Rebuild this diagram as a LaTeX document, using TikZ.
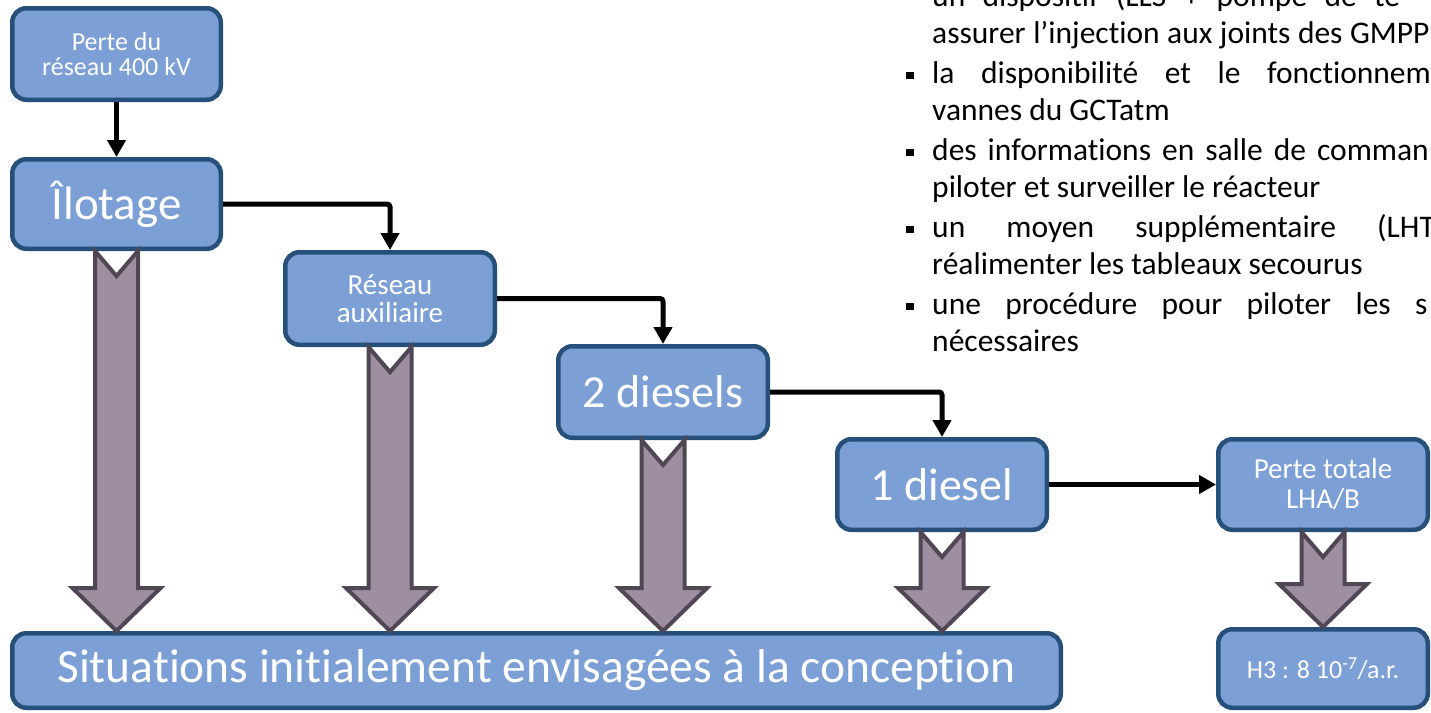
\documentclass[tikz,border=0pt]{standalone}
\usepackage{fontspec}
\setmainfont{Carlito}[RawFeature={-liga;-clig;-calt}]
\usetikzlibrary{arrows.meta,calc}

\definecolor{boxfill}{RGB}{124,159,213}
\definecolor{boxline}{RGB}{38,80,122}
\definecolor{fatfill}{RGB}{157,143,160}
\definecolor{fatline}{RGB}{80,70,84}

% thick hollow-notched block arrow from one stage down to another
\newcommand\fatarrow[2]{%
  \draw[fat]
    ($(#1.south)+(-21.5,0)$) -- ($(#1.south)+(0,25)$) -- ($(#1.south)+(21.5,0)$)
    -- ($(#1.south |- #2.north)+(21.5,-43)$) -- ($(#1.south |- #2.north)+(44,-43)$)
    -- (#1.south |- #2.north)
    -- ($(#1.south |- #2.north)+(-44,-43)$) -- ($(#1.south |- #2.north)+(-21.5,-43)$)
    -- cycle;}

% justified text line: words spread over a given width, then the last word
\newcommand\jline[5]{\node[body] (#1) at (932,#2) {\makebox[#3pt][l]{#4}#5};}

\begin{document}
\begin{tikzpicture}[x=1pt,y=-1pt,
  stage/.style={draw=boxline, fill=boxfill, line width=4.5pt, rounded corners=14pt,
    text=white, align=center, inner sep=0pt},
  conn/.style={line width=5pt, rounded corners=3pt, -{Triangle[length=17pt,width=18pt]}},
  fat/.style={draw=fatline, fill=fatfill, line width=4pt, line join=miter},
  body/.style={anchor=base west, inner sep=0pt, font=\fontsize{31.5}{36.5}\selectfont},
  bsq/.style={fill=black, minimum size=7.5pt, inner sep=0pt}]

\useasboundingbox (0,0) rectangle (1431,712);
\clip (0,0) rectangle (1431,712);

% stages
\node[stage, minimum width=208.5pt, minimum height=91.5pt,
      font=\fontsize{26}{25.5}\selectfont] (loss) at (116.5,54) {Perte du\\réseau 400 kV};
\node[stage, minimum width=208.5pt, minimum height=89.5pt,
      font=\fontsize{47}{56}\selectfont] (ilot) at (116.5,204) {Îlotage};
\node[stage, minimum width=209.5pt, minimum height=92.5pt,
      font=\fontsize{29}{28}\selectfont] (aux) at (390,298.5) {Réseau\\auxiliaire};
\node[stage, minimum width=209.5pt, minimum height=91.5pt,
      font=\fontsize{46}{55}\selectfont] (two) at (663,392) {2 diesels};
\node[stage, minimum width=209.5pt, minimum height=90.5pt,
      font=\fontsize{46}{55}\selectfont] (one) at (942,484.5) {1 diesel};
\node[stage, minimum width=209.5pt, minimum height=90.5pt,
      font=\fontsize{29}{30}\selectfont] (lha) at (1323,484.5) {Perte totale\\LHA/B};
\node[stage, minimum width=209.5pt, minimum height=78.5pt,
      font=\fontsize{26}{30}\selectfont] (h3) at (1323,668.5) {H3 : 8 10\textsuperscript{-7}/a.r.};
\node[stage, minimum width=1048.5pt, minimum height=74.5pt,
      font=\fontsize{47.5}{56}\selectfont] (init) at (536.5,670.5)
      {Situations initialement envisagées à la conception};

% sequence of losses
\draw[conn] (loss.south) -- (ilot.north);
\draw[conn] (ilot.east) -| (aux.north);
\draw[conn] (aux.east) -| (two.north);
\draw[conn] (two.east) -| (one.north);
\draw[conn] (one.east) -- (lha.west);

% block arrows to the design situations
\fatarrow{ilot}{init}
\fatarrow{aux}{init}
\fatarrow{two}{init}
\fatarrow{one}{init}
\fatarrow{lha}{h3}

% bulleted list
\jline{l0}{6.5}{442}{un\hfill dispositif\hfill (LLS\hfill +\hfill pompe\hfill de\hfill}{te}
\jline{l1}{43}{418}{assurer\hfill l’injection\hfill aux\hfill joints\hfill des\hfill}{GMPP}
\jline{l2}{83.5}{335}{la\hfill disponibilité\hfill et\hfill le\hfill}{fonctionnem}
\node[body] (l3) at (932,120) {vannes du GCTatm};
\jline{l4}{160.5}{385}{des\hfill informations\hfill en\hfill salle\hfill de\hfill}{comman}
\node[body] (l5) at (932,197) {piloter et surveiller le réacteur};
\jline{l6}{237.5}{445}{un\hfill moyen\hfill supplémentaire\hfill}{(LHT}
\node[body] (l7) at (932,274) {réalimenter les tableaux secourus};
\jline{l8}{314.5}{483}{une\hfill procédure\hfill pour\hfill piloter\hfill les\hfill}{s}
\node[body] (l9) at (932,351) {nécessaires};

\node[bsq] (q2) at (910,75.5) {};
\node[bsq] (q4) at (910,152.5) {};
\node[bsq] (q6) at (910,229.5) {};
\node[bsq] (q8) at (910,306.5) {};
\end{tikzpicture}
\end{document}
